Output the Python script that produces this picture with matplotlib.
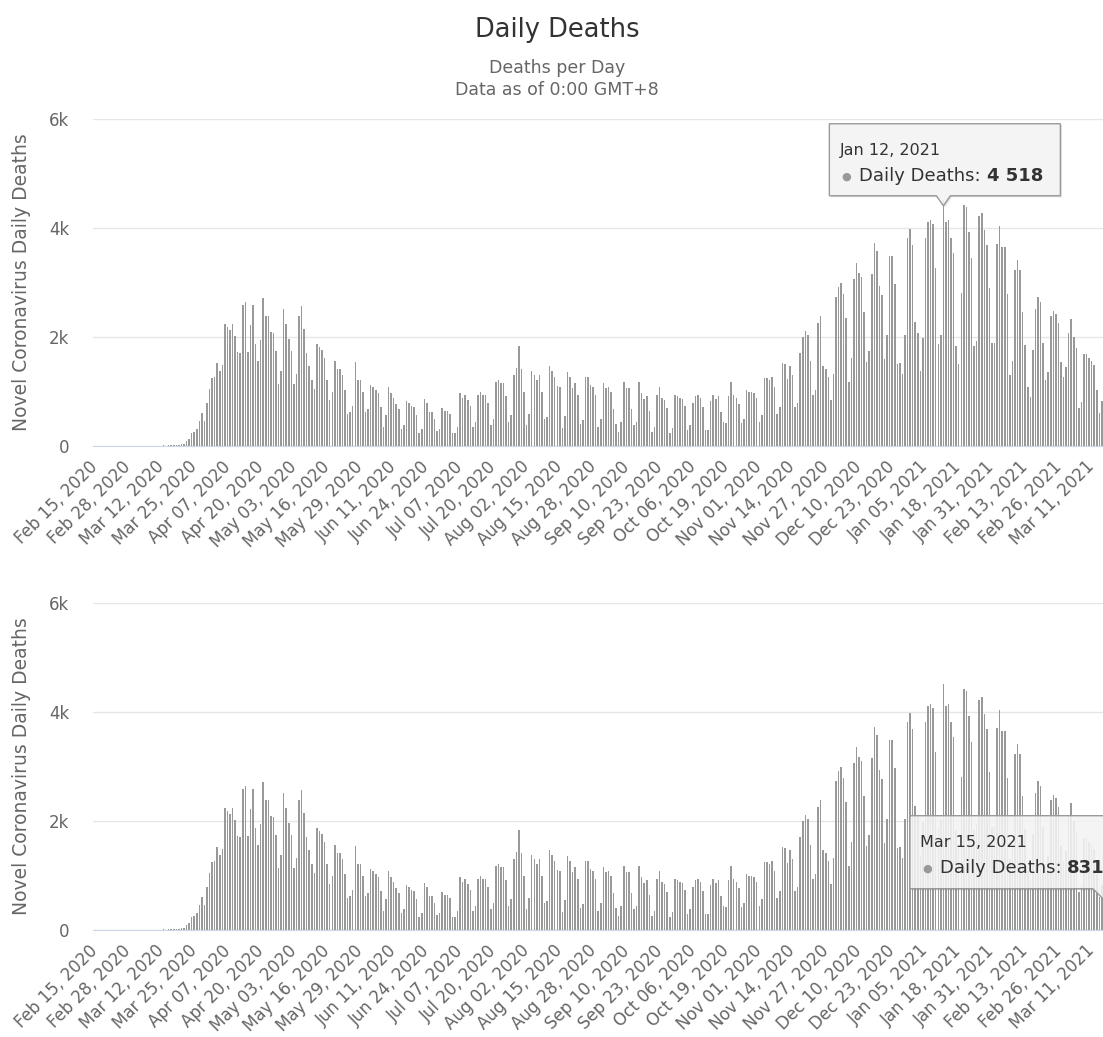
import numpy as np
import pandas as pd
import matplotlib
matplotlib.use("Agg")
import matplotlib.pyplot as plt
from matplotlib.patches import Polygon

W, H = 1103, 1037

# Daily deaths, one value per day starting Feb 15, 2020
early = [0] * 14 + [1, 0, 4, 1, 3, 2, 1, 3, 4, 3, 4, 5, 7, 10, 7, 11, 17,
                    18, 22, 25, 28, 32]
wave1 = [100, 135, 230, 260, 320, 460, 600, 450, 780, 1040,
         1240, 1260, 1530, 1380, 1480, 2240, 2180, 2120, 2240, 2020,
         1730, 1700, 2590, 2650, 1730, 2220, 2590, 1880, 1560, 1940,
         2710, 2390, 2390, 2100, 2070, 1750, 1130, 1380, 2510, 2240,
         1960, 1750, 1130, 1320, 2390, 2570, 2140, 1710, 1470, 1210,
         1040, 1880, 1820, 1760, 1610, 1210, 840]
late_spring = [1000, 1560, 1410, 1410, 1300, 1030, 590, 630, 730, 1535,
               1210, 1210, 1000, 620, 680, 1120, 1090, 1030, 980, 710,
               355, 560, 1090, 980, 880, 770, 680, 320, 390, 830,
               795, 735, 710, 560, 230, 320, 856, 795, 625, 625,
               500, 270, 320, 700, 650, 650, 590, 230, 230, 340,
               970, 880, 940, 845, 735, 355, 435, 940, 1000, 940,
               940, 795, 385, 500, 1180, 1210]
summer = [1150, 1150, 920, 440, 560, 1300, 1440, 1835, 1410, 1000,
          380, 590, 1380, 1300, 1210, 1300, 1000, 500, 525, 1470,
          1380, 1265, 1110, 1075, 325, 550, 1360, 1265, 1060, 1150,
          940, 400, 480, 1265, 1265, 1120, 1090, 940, 355, 490,
          1150, 1060, 1090, 1000, 675, 400, 265, 440, 1175, 1060,
          1060, 675, 380, 440, 1175, 980, 855, 920, 650, 265,
          355, 940, 1090, 880, 845, 700, 230]
autumn = [325, 935, 915, 885, 855, 735, 295, 385, 795, 915,
          940, 880, 710, 295, 295, 825, 940, 855, 915, 620,
          440, 415, 915, 1175, 940, 880, 765, 415, 500, 1030,
          1000, 1000, 980, 885, 440, 565, 1240, 1240, 1210, 1265,
          1090, 585, 710, 1530, 1505, 1235, 1470, 1300, 710, 795,
          1700, 2005, 2115, 2030, 1560, 935, 1030, 2265, 2385, 1470,
          1415, 1265, 845, 1320, 2740, 2910]
winter = [2990, 2790, 2340, 1175, 1620, 3060, 3360, 3170, 3110, 2465,
          1535, 1745, 3150, 3720, 3570, 2940, 2765, 1600, 2045, 3485,
          3485, 2975, 1500, 1520, 1320, 2045, 3810, 3980, 3695, 2280,
          2080, 1375, 1980, 3820, 4105, 4155, 4080, 3260, 1870, 2045,
          4518, 4105, 4155, 3810, 3535, 1830, 1510, 2815, 4430, 4390,
          3930, 3450, 1830, 1920, 4220, 4280, 3955, 3685, 2900, 1895,
          1895, 3710, 4030, 3660, 3660, 2790, 1300, 1560, 3235, 3410,
          3235, 2455, 1845, 1085, 900, 1770, 2515, 2725, 2640, 1895,
          1210, 1350, 2390, 2480, 2430, 2265, 1535, 1275, 1445, 2080,
          2330, 1995, 1795, 700, 800, 1685, 1685, 1620, 1560, 1485,
          1025, 600, 831]

daily_deaths = early + wave1 + late_spring + summer + autumn + winter
dates = pd.date_range("2020-02-15", periods=len(daily_deaths), freq="D")

label_step = 13
y_ticks = [0, 2000, 4000, 6000]
y_tick_labels = ["0", "2k", "4k", "6k"]
series_name = "Daily Deaths"
tooltip_dates = ["2021-01-12", "2021-03-15"]

BAR = "#999999"
GRID = "#e6e6e6"
AXIS = "#ccd6eb"
LABEL = "#666666"
DARK = "#333333"

fig = plt.figure(figsize=(W / 100, H / 100), dpi=100)
fig.text(557 / W, 1 - 30 / H, "Daily Deaths", ha="center", va="center",
         fontsize=18.5, color=DARK)
fig.text(557 / W, 1 - 68 / H, "Deaths per Day", ha="center", va="center",
         fontsize=12.5, color=LABEL)
fig.text(557 / W, 1 - 90 / H, "Data as of 0:00 GMT+8", ha="center", va="center",
         fontsize=12.5, color=LABEL)

x = np.arange(len(daily_deaths))
left, width = 93.2 / W, 1010 / W
axes = []
for top_px, bot_px in [(119, 446), (603, 930)]:
    ax = fig.add_axes([left, 1 - bot_px / H, width, (bot_px - top_px) / H])
    ax.bar(x, daily_deaths, width=0.6, color=BAR, linewidth=0, zorder=2)
    ax.set_xlim(-0.5, len(daily_deaths) - 0.5)
    ax.set_ylim(0, 6000)
    ax.set_yticks(y_ticks)
    ax.set_yticklabels(y_tick_labels)
    ax.yaxis.grid(True, color=GRID, lw=1)
    ax.set_axisbelow(True)
    for s in ["top", "right", "left"]:
        ax.spines[s].set_visible(False)
    ax.spines["bottom"].set_color(AXIS)
    ax.spines["bottom"].set_zorder(3)
    ax.set_xticks(x[::label_step])
    ax.set_xticklabels([d.strftime("%b %d, %Y") for d in dates[::label_step]],
                       rotation=45, ha="right", va="center", rotation_mode="anchor")
    ax.tick_params(axis="x", length=0, pad=13, labelsize=12, labelcolor=LABEL)
    ax.tick_params(axis="y", length=0, pad=17, labelsize=12, labelcolor=LABEL)
    fig.text(22 / W, 1 - (top_px + bot_px) / 2 / H, "Novel Coronavirus Daily Deaths",
             rotation=90, ha="center", va="center", fontsize=13.5, color=LABEL)
    axes.append(ax)

# tooltip overlay in pixel coordinates
ov = fig.add_axes([0, 0, 1, 1], zorder=10)
ov.set_xlim(0, W)
ov.set_ylim(H, 0)
ov.axis("off")
ov.patch.set_alpha(0)
renderer = fig.canvas.get_renderer()


def tooltip(ax, date_str, box, pointer):
    day = int(np.where(dates == pd.Timestamp(date_str))[0][0])
    val = daily_deaths[day]
    dx, dy = ax.transData.transform((day, val))
    px, py = dx, H - dy
    l, t, r, b = px + box[0], py + box[1], px + box[2], py + box[3]
    if pointer == "bottom":
        verts = [(l, t), (r, t), (r, b), (px + 7, b), (px, py + 6), (px - 7, b), (l, b)]
    else:
        verts = [(l, t), (r, t), (r, b), (px + 14, b), (px + 4, py + 17), (px - 9, b), (l, b)]
    shadow = Polygon([(vx + 1.5, vy + 1.5) for vx, vy in verts], closed=True,
                     facecolor="#000000", alpha=0.12, edgecolor="none")
    ov.add_patch(shadow)
    ov.add_patch(Polygon(verts, closed=True, facecolor="#f7f7f7", alpha=0.88,
                         edgecolor="none"))
    ov.add_patch(Polygon(verts, closed=True, facecolor="none", edgecolor=BAR, lw=1))
    ov.text(l + 10, t + 27, pd.Timestamp(date_str).strftime("%b %d, %Y"),
            ha="left", va="center", fontsize=11.5, color=DARK)
    ov.text(l + 17, t + 53, "\u25cf", ha="center", va="center", fontsize=8, color=BAR)
    t1 = ov.text(l + 30, t + 52, series_name + ": ", ha="left", va="center",
                 fontsize=13, color=DARK)
    bb = t1.get_window_extent(renderer)
    vx = ov.transData.inverted().transform((bb.x1, 0))[0]
    ov.text(vx, t + 52, f"{val:,}".replace(",", " "), ha="left", va="center",
            fontsize=13, color=DARK, fontweight="bold")


tooltip(axes[0], tooltip_dates[0], (-114, -76, 117, -4), "bottom")
tooltip(axes[1], tooltip_dates[1], (-192, -69, 40, 4), "corner")

fig.savefig("out.png", dpi=100)
